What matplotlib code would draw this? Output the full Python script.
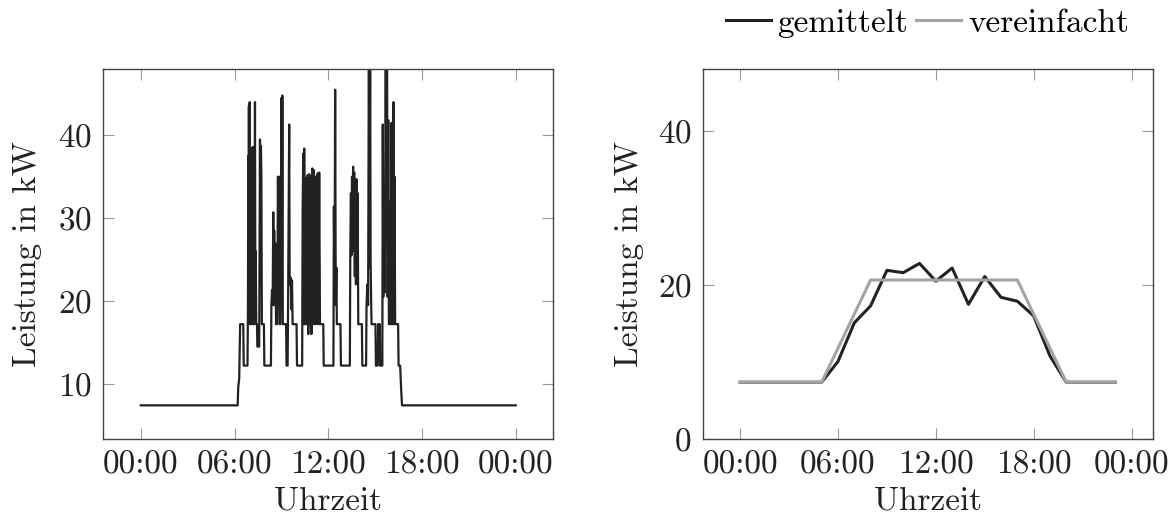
import matplotlib
matplotlib.use("Agg")
import matplotlib.pyplot as plt

plt.rcParams['font.family'] = ['cmr10', 'DejaVu Serif']
plt.rcParams['axes.formatter.use_mathtext'] = True
plt.rcParams['mathtext.fontset'] = 'cm'

# ---- data: left panel (measured load, hours vs kW) ----
left_t = [0.00, 6.20, 6.24, 6.30, 6.36, 6.56, 6.59, 6.83, 6.86, 6.88, 6.90, 6.92, 6.94, 6.97, 6.99,
          7.10, 7.12, 7.14, 7.17, 7.20, 7.22, 7.28, 7.31, 7.33, 7.36, 7.39, 7.44, 7.46, 7.58, 7.60,
          7.63, 7.66, 7.69, 7.72, 7.75, 7.88, 7.91, 8.33, 8.36, 8.40, 8.44, 8.48, 8.51, 8.54, 8.57,
          8.60, 8.63, 8.66, 8.72, 8.75, 8.78, 8.81, 8.84, 8.88, 8.93, 8.96, 9.00, 9.03, 9.06, 9.09,
          9.30, 9.33, 9.40, 9.43, 9.50, 9.53, 9.60, 9.64, 9.68, 9.72, 9.97, 10.00, 10.33, 10.36, 10.40,
          10.43, 10.46, 10.49, 10.55, 10.58, 10.62, 10.68, 10.72, 10.78, 10.82, 10.88, 10.92, 10.98, 11.03,
          11.08, 11.12, 11.20, 11.25, 11.32, 11.37, 11.42, 11.47, 11.68, 11.71, 12.33, 12.36, 12.40, 12.44,
          12.48, 12.52, 12.55, 12.78, 12.81, 13.38, 13.41, 13.45, 13.48, 13.52, 13.55, 13.59, 13.62, 13.66,
          13.70, 13.74, 13.77, 13.81, 13.84, 13.88, 13.92, 14.15, 14.18, 14.42, 14.45, 14.50, 14.55, 14.60,
          14.64, 14.68, 14.71, 14.74, 14.77, 15.02, 15.05, 15.17, 15.19, 15.30, 15.32, 15.46, 15.49, 15.52,
          15.56, 15.60, 15.63, 15.68, 15.72, 15.76, 15.80, 15.84, 15.88, 15.94, 15.97, 16.00, 16.05, 16.08,
          16.13, 16.17, 16.20, 16.24, 16.28, 16.47, 16.50, 16.60, 16.66, 16.72, 24.00]
left_v = [7.4, 7.4, 9.6, 10.6, 17.2, 17.2, 12.2, 12.2, 19.0, 37.5, 27.0, 43.5, 29.0, 44.0, 17.2,
          17.2, 26.0, 38.5, 22.0, 38.6, 17.2, 17.2, 44.0, 24.0, 26.0, 17.2, 17.2, 14.5, 14.5, 26.0,
          39.5, 22.0, 38.7, 35.0, 17.2, 17.2, 12.2, 12.2, 19.5, 21.3, 19.5, 30.7, 19.5, 28.5, 19.5,
          27.0, 22.0, 17.2, 17.2, 23.0, 35.0, 22.0, 35.0, 17.2, 17.2, 22.0, 44.5, 20.0, 44.8, 17.2,
          17.2, 12.2, 12.2, 20.0, 41.3, 22.0, 22.8, 19.0, 22.5, 17.2, 17.2, 12.2, 12.2, 31.0, 37.8,
          17.2, 38.4, 17.2, 17.2, 34.8, 17.2, 35.2, 16.0, 35.3, 17.2, 35.0, 16.0, 36.0, 17.2,
          35.8, 17.2, 35.0, 17.2, 35.4, 17.2, 35.5, 17.2, 17.2, 12.2, 12.2, 31.4, 20.0, 45.5,
          19.5, 24.0, 17.2, 17.2, 12.2, 12.2, 26.0, 33.0, 25.5, 35.0, 26.0, 36.2, 28.0, 35.5,
          23.0, 34.5, 22.0, 34.7, 27.0, 33.0, 17.2, 17.2, 12.2, 12.2, 19.5, 22.0, 19.5, 52.0,
          24.0, 52.0, 25.0, 20.5, 17.2, 17.2, 12.2, 12.2, 17.2, 17.2, 12.2, 12.2, 41.3, 20.5,
          26.0, 21.0, 27.0, 52.0, 28.0, 52.0, 20.5, 41.8, 17.2, 17.2, 32.0, 17.2, 41.5, 17.2,
          17.2, 44.0, 17.2, 35.0, 17.2, 17.2, 12.2, 12.2, 9.5, 7.4, 7.4]

# ---- data: right panel (hourly) ----
hours = list(range(24))
gemittelt = [7.4, 7.4, 7.4, 7.4, 7.4, 7.4, 10.1, 15.1, 17.3, 21.9, 21.6, 22.8,
             20.5, 22.2, 17.5, 21.1, 18.4, 17.9, 16.0, 10.8, 7.4, 7.4, 7.4, 7.4]
vereinfacht_t = [0, 5, 8, 17, 20, 23]
vereinfacht_v = [7.4, 7.4, 20.65, 20.65, 7.4, 7.4]

xtick_pos = [0, 6, 12, 18, 24]
xtick_lab = ["00:00", "06:00", "12:00", "18:00", "00:00"]

BLACK = "#222222"
GRAY = "#a3a3a3"
FS = 24

fig = plt.figure(figsize=(11.68, 5.16), dpi=100)
ax1 = fig.add_axes([0.0884, 0.1486, 0.3853, 0.7177])
ax2 = fig.add_axes([0.6016, 0.1486, 0.3853, 0.7177])

ax1.plot(left_t, left_v, color=BLACK, lw=1.6)
ax1.set_xlim(-2.4, 26.4)
ax1.set_ylim(3.3, 48)
ax1.set_yticks([10, 20, 30, 40])

l1, = ax2.plot(hours, gemittelt, color=BLACK, lw=2.2, label="gemittelt")
l2, = ax2.plot(vereinfacht_t, vereinfacht_v, color=GRAY, lw=2.2, label="vereinfacht")
ax2.set_xlim(-2.3, 25.3)
ax2.set_ylim(0, 48)
ax2.set_yticks([0, 20, 40])

for ax in (ax1, ax2):
    ax.set_xticks(xtick_pos)
    ax.set_xticklabels(xtick_lab)
    ax.tick_params(direction="in", length=8, width=0.8, color="#9a9a9a",
                   top=True, right=True, labelsize=FS, labelcolor=BLACK, pad=8)
    for s in ax.spines.values():
        s.set_color("#444444")
        s.set_linewidth(1.0)
    ax.set_xlabel("Uhrzeit", fontsize=FS, color=BLACK, labelpad=5)
ax1.set_ylabel("Leistung in kW", fontsize=FS, color=BLACK, labelpad=12)
ax2.set_ylabel("Leistung in kW", fontsize=FS, color=BLACK, labelpad=10)

fig.legend(handles=[l1, l2], loc="center", bbox_to_anchor=(0.794, 0.955), ncol=2,
           frameon=False, fontsize=FS, handlelength=1.35, handletextpad=0.2,
           columnspacing=0.25, borderaxespad=0, borderpad=0)

fig.savefig("out.png", dpi=100)
